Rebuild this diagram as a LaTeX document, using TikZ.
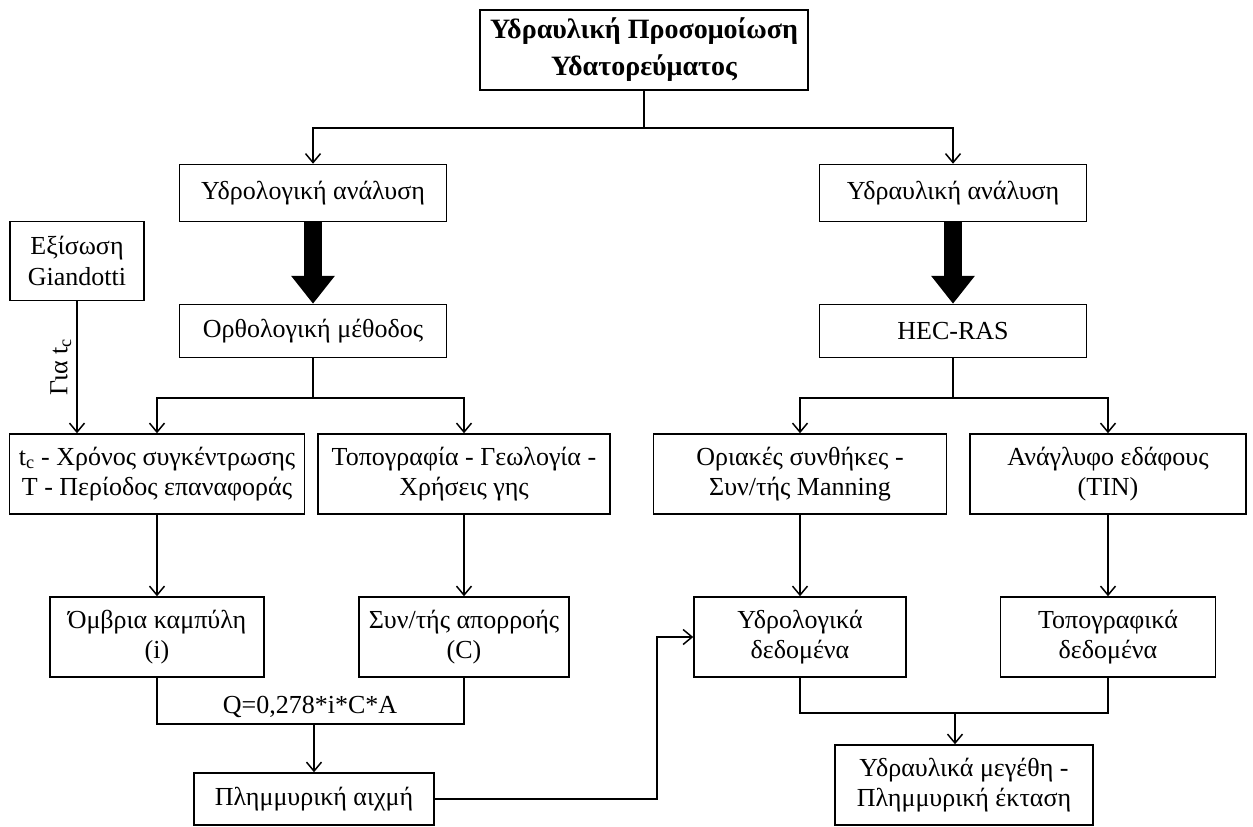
\documentclass[tikz,border=0pt]{standalone}
\usepackage{fontspec}
\setmainfont{Liberation Serif}
\usetikzlibrary{arrows.meta}
\tikzset{>={Straight Barb[length=9pt,width=15pt]}}
\tikzset{
    block/.style={rectangle,draw,line width=1.5pt,align=center,inner sep=0pt,font=\fontsize{26}{30.5}\selectfont},
    titleblock/.style={block,font=\fontsize{28}{37}\selectfont\bfseries},
    link/.style={line width=1.5pt},
    directed/.style={link,->},
    bigarrow/.style={line width=18pt,-{Triangle[length=28pt 0 0,width=42pt 0 0]}},
    formula/.style={font=\fontsize{26}{30.5}\selectfont,inner sep=0pt},
}

\begin{document}
\begin{tikzpicture}[x=1pt,y=-1pt]
    \useasboundingbox (0,0) rectangle (1253,827);

    \node[titleblock,minimum width=328,minimum height=80] (title) at (644,50) {Υδραυλική Προσομοίωση\\Υδατορεύματος};

    \node[block,minimum width=267,minimum height=57] (hydro) at (313,193) {Υδρολογική ανάλυση};
    \node[block,minimum width=267,minimum height=57] (hydraulic) at (953,193) {Υδραυλική ανάλυση};
    \node[block,minimum width=134,minimum height=79] (giand) at (77,261) {Εξίσωση\\Giandotti};
    \node[block,minimum width=267,minimum height=53] (rational) at (313,331) {Ορθολογική μέθοδος};
    \node[block,minimum width=267,minimum height=53] (hecras) at (953,331) {HEC-RAS};

    \node[block,minimum width=295,minimum height=80] (tc) at (157,474) {t\textsubscript{c} - Χρόνος συγκέντρωσης\\T - Περίοδος επαναφοράς};
    \node[block,minimum width=292,minimum height=80] (topo) at (464,474) {Τοπογραφία - Γεωλογία -\\Χρήσεις γης};
    \node[block,minimum width=293,minimum height=80] (bound) at (800,474) {Οριακές συνθήκες -\\Συν/τής Manning};
    \node[block,minimum width=276,minimum height=80] (relief) at (1108,474) {Ανάγλυφο εδάφους\\(TIN)};

    \node[block,minimum width=214,minimum height=80] (ombria) at (157,637) {Όμβρια καμπύλη\\(i)};
    \node[block,minimum width=210,minimum height=80] (runoff) at (464,637) {Συν/τής απορροής\\(C)};
    \node[block,minimum width=212,minimum height=80] (hdata) at (800,637) {Υδρολογικά\\δεδομένα};
    \node[block,minimum width=215,minimum height=80] (tdata) at (1108,637) {Τοπογραφικά\\δεδομένα};

    \node[block,minimum width=240,minimum height=52] (peak) at (314,799) {Πλημμυρική αιχμή};
    \node[block,minimum width=258,minimum height=80] (result) at (964,785) {Υδραυλικά μεγέθη -\\Πλημμυρική έκταση};

    \coordinate (topbar) at (644,128);
    \coordinate (lsplit) at (313,398);
    \coordinate (rsplit) at (953,398);
    \coordinate (qbar) at (314,724);
    \coordinate (rjoin) at (955,713);

    \draw[link] (title.south) -- (topbar);
    \draw[directed] (topbar) -| (hydro.north);
    \draw[directed] (topbar) -| (hydraulic.north);

    \draw[bigarrow] (hydro.south) -- (rational.north);
    \draw[bigarrow] (hydraulic.south) -- (hecras.north);

    \draw[directed] (giand.south) -- (giand.south |- tc.north)
        node[formula,midway,rotate=90,above=5pt] {Για t\textsubscript{c}};

    \draw[link] (rational.south) -- (lsplit);
    \draw[directed] (lsplit) -| (tc.north);
    \draw[directed] (lsplit) -| (topo.north);
    \draw[link] (hecras.south) -- (rsplit);
    \draw[directed] (rsplit) -| (bound.north);
    \draw[directed] (rsplit) -| (relief.north);

    \draw[directed] (tc.south) -- (ombria.north);
    \draw[directed] (topo.south) -- (runoff.north);
    \draw[directed] (bound.south) -- (hdata.north);
    \draw[directed] (relief.south) -- (tdata.north);

    \draw[link] (ombria.south) |- (qbar) -| (runoff.south);
    \node[formula,anchor=south] (qform) at (310,718) {Q=0,278*i*C*A};
    \draw[directed] (qbar) -- (peak.north);

    \draw[directed] (peak.east) -- ++(222,0) |- (hdata.west);

    \draw[link] (hdata.south) |- (rjoin) -| (tdata.south);
    \draw[directed] (rjoin) -- (rjoin |- result.north);
\end{tikzpicture}
\end{document}
